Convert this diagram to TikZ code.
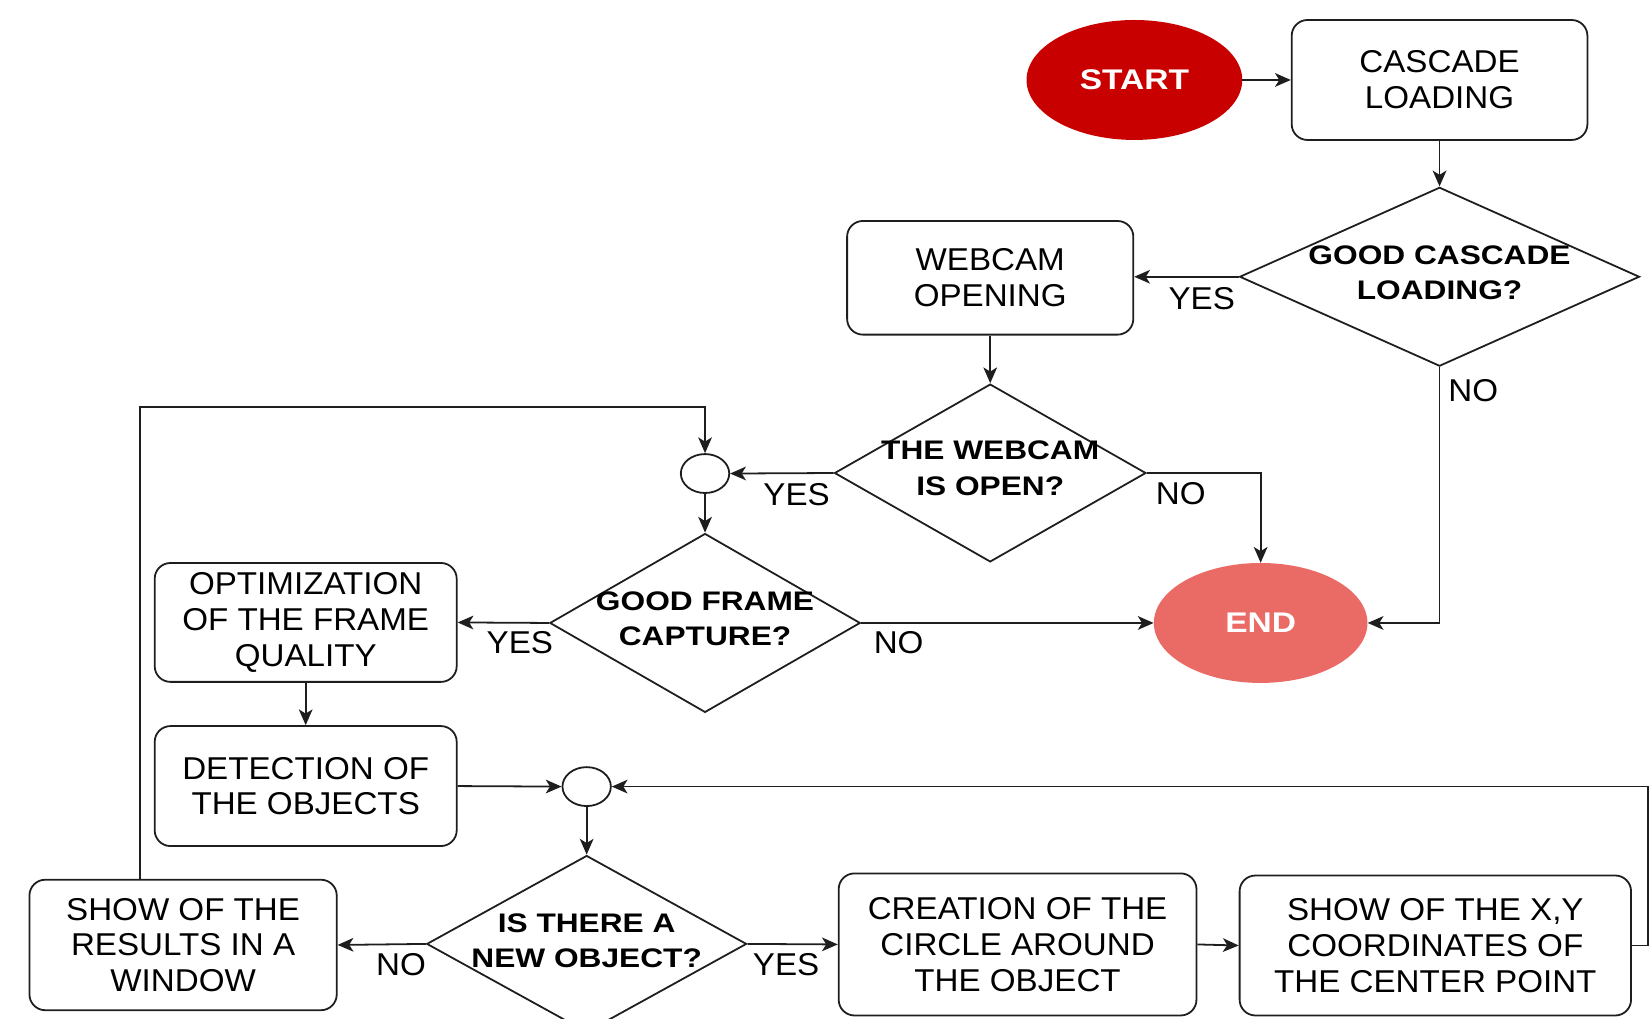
\documentclass[tikz,border=0pt]{standalone}
\usepackage{fontspec}
\setmainfont{Liberation Sans}[FakeStretch=1.05]
\newfontfamily\boldfam{Liberation Sans}[FakeStretch=1.18]
\usetikzlibrary{shapes.geometric,arrows.meta}
\definecolor{startred}{RGB}{200,0,0}
\definecolor{endred}{RGB}{234,107,102}
\definecolor{linec}{RGB}{30,30,30}
\begin{document}
\begin{tikzpicture}[x=1pt,y=-1pt,
  box/.style={draw=linec, line width=1.7pt, rounded corners=15pt, inner sep=0pt, align=center, font=\fontsize{30}{34}\selectfont},
  dia/.style={draw=linec, line width=1.7pt, diamond, inner sep=0pt},
  dtext/.style={align=center, font=\boldfam\bfseries\fontsize{25.5}{33.5}\selectfont, inner sep=0pt},
  term/.style={ellipse, inner sep=0pt, text=white, font=\boldfam\bfseries\fontsize{27}{30}\selectfont},
  junc/.style={ellipse, draw=linec, line width=1.7pt, fill=white, minimum width=46pt, minimum height=37pt, inner sep=0pt},
  lbl/.style={font=\fontsize{30}{34}\selectfont, inner sep=0pt},
  arr/.style={draw=linec, line width=1.7pt, -{Stealth[length=15pt,width=13pt,inset=4pt]}},
  ln/.style={draw=linec, line width=1.7pt}
]
\useasboundingbox (0,0) rectangle (1568,968);
\clip (0,0) rectangle (1568,968);

% terminals
\node[term, fill=startred, minimum width=205pt, minimum height=114pt] (start) at (1078,76) {START};
\node[term, fill=endred, minimum width=203pt, minimum height=114pt] (endn) at (1198,592) {END};

% process boxes
\node[box, minimum width=281pt, minimum height=114pt] (casc) at (1368,76) {CASCADE\\LOADING};
\node[box, minimum width=272pt, minimum height=108pt] (web) at (941,264) {WEBCAM\\OPENING};
\node[box, minimum width=287pt, minimum height=113pt] (opt) at (290.5,591.5) {OPTIMIZATION\\OF THE FRAME\\QUALITY};
\node[box, minimum width=287pt, minimum height=114pt] (det) at (290.5,747) {DETECTION OF\\THE OBJECTS};
\node[box, minimum width=292pt, minimum height=124pt] (res) at (174,898) {SHOW OF THE\\RESULTS IN A\\WINDOW};
\node[box, minimum width=340pt, minimum height=135pt] (cre) at (967,897.5) {CREATION OF THE\\CIRCLE AROUND\\THE OBJECT};
\node[box, minimum width=372pt, minimum height=133pt] (sxy) at (1364,898.5) {SHOW OF THE X,Y\\COORDINATES OF\\THE CENTER POINT};

% decisions
\node[dia, minimum width=380pt, minimum height=170pt] (d1) at (1368,263) {};
\node[dtext] (d1t) at (1368,259) {GOOD CASCADE\\LOADING?};
\node[dia, minimum width=296pt, minimum height=169pt] (d2) at (941,449.5) {};
\node[dtext] (d2t) at (941,445) {THE WEBCAM\\IS OPEN?};
\node[dia, minimum width=295pt, minimum height=170pt] (d3) at (670,592) {};
\node[dtext] (d3t) at (670,588) {GOOD FRAME\\CAPTURE?};
\node[dia, minimum width=304pt, minimum height=168pt] (d4) at (557.5,897) {};
\node[dtext] (d4t) at (557.5,894) {IS THERE A\\NEW OBJECT?};

% junctions
\node[junc] (j1) at (670,450) {};
\node[junc] (j2) at (557.5,747.5) {};

% helper coordinates
\coordinate (rt) at (1566,898.5);
\coordinate (lp) at (133,387);

% connectors
\draw[arr] (start.east) -- (casc.west);
\draw[arr] (casc.south) -- (d1.north);
\draw[arr] (d1.west) -- (d1.west -| web.east);
\draw[arr] (d1.south) |- (endn.east);
\draw[arr] (web.south) -- (d2.north);
\draw[arr] (d2.west) -- (j1.east);
\draw[arr] (d2.east) -| (endn.north);
\draw[arr] (j1.south) -- (d3.north);
\draw[arr] (d3.west) -- (opt.east);
\draw[arr] (d3.east) -- (endn.west);
\draw[arr] (opt.south) -- (det.north);
\draw[arr] (det.east) -- (j2.west);
\draw[arr] (j2.south) -- (d4.north);
\draw[arr] (d4.west) -- (res.east);
\draw[arr] (d4.east) -- (cre.west);
\draw[arr] (cre.east) -- (sxy.west);
\draw[arr] (sxy.east) -- (rt) |- (j2.east);
\draw[arr] (lp |- res.north) -- (lp) -| (j1.north);

% labels
\node[lbl] (l1) at (1142,284) {YES};
\node[lbl] (l2) at (1400,371) {NO};
\node[lbl] (l3) at (757,470) {YES};
\node[lbl] (l4) at (1122,469) {NO};
\node[lbl] (l5) at (494,611) {YES};
\node[lbl] (l6) at (854,611) {NO};
\node[lbl] (l7) at (381,917) {NO};
\node[lbl] (l8) at (747,917) {YES};
\end{tikzpicture}
\end{document}
